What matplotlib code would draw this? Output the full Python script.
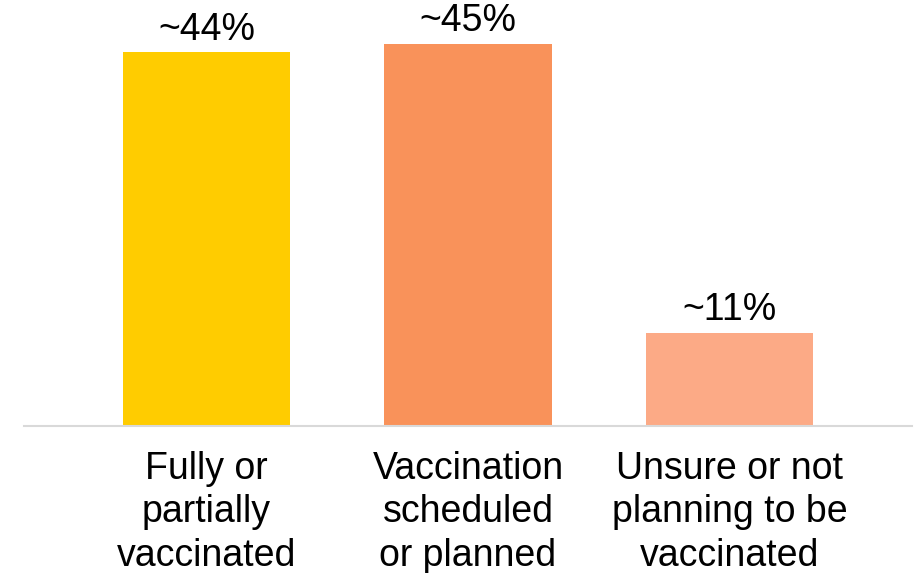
import matplotlib
matplotlib.use("Agg")
import matplotlib.pyplot as plt

categories = ["Fully or\npartially\nvaccinated",
              "Vaccination\nscheduled\nor planned",
              "Unsure or not\nplanning to be\nvaccinated"]
values = [44, 45, 11]
value_labels = ["~44%", "~45%", "~11%"]
colors = ["#FFCC00", "#F9925A", "#FCAA86"]

plt.rcParams['font.family'] = ['Liberation Sans', 'DejaVu Sans']

fig = plt.figure(figsize=(9.2, 5.73), dpi=100)
W, H = 920, 573
ax = fig.add_axes([24 / W, (573 - 426) / H, 888 / W, 425 / H])
x = list(range(len(categories)))
bars = ax.bar(x, values, width=0.64, color=colors, zorder=2)
ax.set_xlim(-0.698, 2.698)
ax.set_ylim(0, 50)
for spine in ["top", "right", "left"]:
    ax.spines[spine].set_visible(False)
ax.spines["bottom"].set_color("#D9D9D9")
ax.spines["bottom"].set_linewidth(1.5)
ax.set_yticks([])
ax.set_xticks(x)
ax.set_xticklabels(categories, fontsize=27, linespacing=1.26)
ax.tick_params(axis="x", length=0, pad=18)
for xi, v, lab in zip(x, values, value_labels):
    ax.annotate(lab, (xi, v), xytext=(0, 3), textcoords="offset points",
                ha="center", va="bottom", fontsize=27, color="black",
                annotation_clip=False)

fig.savefig("out.png", dpi=100)
